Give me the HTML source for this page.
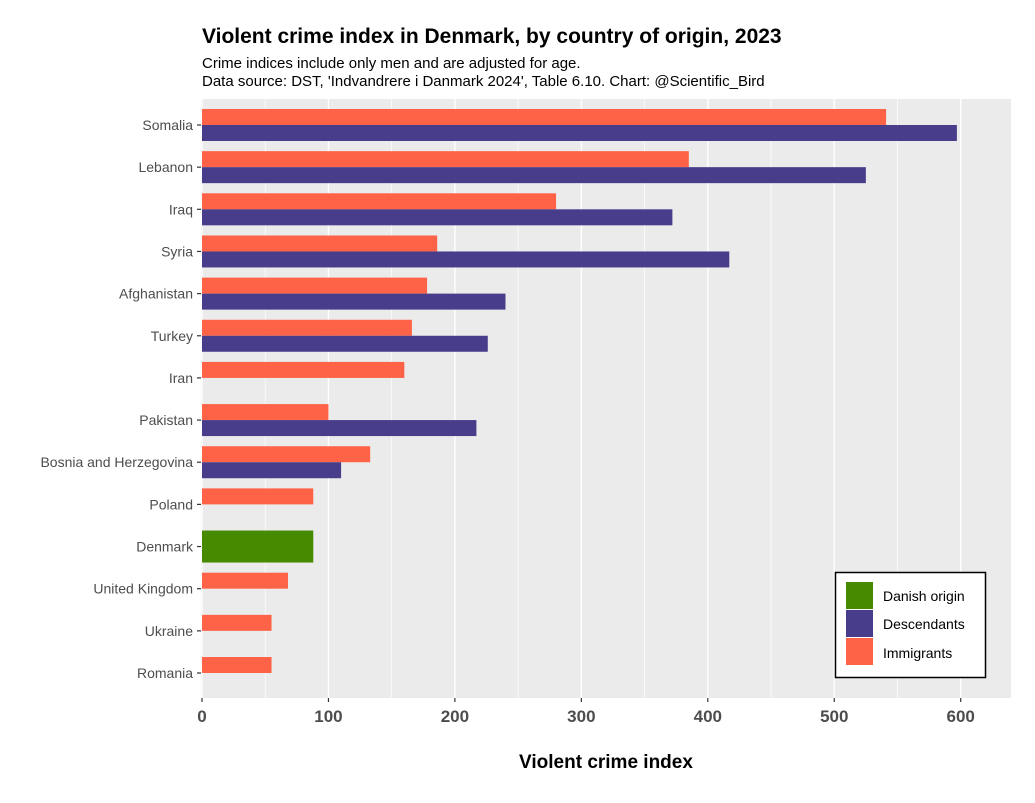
<!DOCTYPE html>
<html><head><meta charset="utf-8"><style>
body{margin:0;background:#fff;font-family:"Liberation Sans",sans-serif}
svg text{font-family:"Liberation Sans",sans-serif}
</style></head><body>
<svg width="1035" height="798">
<text x="202" y="43" font-size="21" font-weight="bold" fill="#000">Violent crime index in Denmark, by country of origin, 2023</text>
<text x="202" y="68" font-size="15" fill="#000">Crime indices include only men and are adjusted for age.</text>
<text x="202" y="86" font-size="15" fill="#000">Data source: DST, 'Indvandrere i Danmark 2024', Table 6.10. Chart: @Scientific_Bird</text>
<rect x="201" y="99" width="810" height="599" fill="#ebebeb"/>
<g id="grid"></g><g id="bars"></g><g id="yaxis"></g><g id="xaxis"></g>
<text x="606" y="768" font-size="19" font-weight="bold" text-anchor="middle">Violent crime index</text>
<g>
<rect x="835.5" y="572.5" width="150" height="105" fill="#fff" stroke="#000" stroke-width="1.5"/>
<rect x="846" y="582" width="27" height="27" fill="#468a00"/>
<rect x="846" y="610" width="27" height="27" fill="#483d8b"/>
<rect x="846" y="638" width="27" height="27" fill="#ff6347"/>
<text x="883" y="601" font-size="14">Danish origin</text>
<text x="883" y="629" font-size="14">Descendants</text>
<text x="883" y="658" font-size="14">Immigrants</text>
</g>
</svg>
<script>
const categories=["Somalia","Lebanon","Iraq","Syria","Afghanistan","Turkey","Iran","Pakistan","Bosnia and Herzegovina","Poland","Denmark","United Kingdom","Ukraine","Romania"];
const immigrants=[541,385,280,186,178,166,160,100,133,88,null,68,55,55];
const descendants=[597,525,372,417,240,226,null,217,110,null,null,null,null,null];
const danish=[null,null,null,null,null,null,null,null,null,null,88,null,null,null];
const xTicks=[0,100,200,300,400,500,600];
const NS="http://www.w3.org/2000/svg";
const x=v=>202+v*(960.7-202)/600;
const y=i=>125+i*(673-125)/13;
const half=16;
function mk(tag,attrs,parent){const e=document.createElementNS(NS,tag);for(const k in attrs)e.setAttribute(k,attrs[k]);document.getElementById(parent).appendChild(e);return e;}
xTicks.forEach((t,i)=>{
  const g=mk("line",{x1:x(t),x2:x(t),y1:99,y2:698,stroke:"#fff","stroke-width":1.4},"grid");
  
  
  if(i<xTicks.length-1){const m=(t+xTicks[i+1])/2;
    const gm=mk("line",{x1:x(m),x2:x(m),y1:99,y2:698,stroke:"#fff","stroke-width":0.7},"grid");
    
    }
  const tk=mk("line",{x1:x(t),x2:x(t),y1:698,y2:702,stroke:"#333","stroke-width":1.2},"xaxis");
  
  
  const tl=mk("text",{x:x(t),y:722,"font-size":17,"font-weight":"bold",fill:"#4d4d4d","text-anchor":"middle"},"xaxis");
  tl.textContent=t;
  
  
});
categories.forEach((c,i)=>{
  const tk=mk("line",{x1:197,x2:201,y1:y(i),y2:y(i),stroke:"#333","stroke-width":1.2},"yaxis");
  
  
  const tl=mk("text",{x:193,y:y(i)+5,"font-size":14,fill:"#4d4d4d","text-anchor":"end"},"yaxis");
  tl.textContent=c;
  
  
  if(immigrants[i]!=null){const b=mk("rect",{x:x(0),y:y(i)-half,width:x(immigrants[i])-x(0),height:half,fill:"#ff6347"},"bars");
    
    }
  if(descendants[i]!=null){const b=mk("rect",{x:x(0),y:y(i),width:x(descendants[i])-x(0),height:half,fill:"#483d8b"},"bars");
    
    }
  if(danish[i]!=null){const b=mk("rect",{x:x(0),y:y(i)-half,width:x(danish[i])-x(0),height:2*half,fill:"#468a00"},"bars");
    
    }
});
</script>
</body></html>
